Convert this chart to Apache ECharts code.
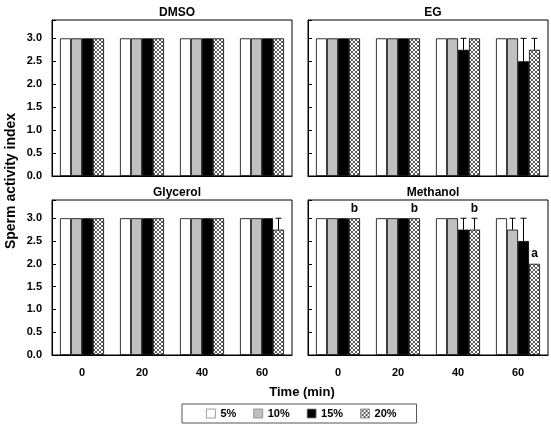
<!DOCTYPE html>
<html>
<head>
<meta charset="utf-8">
<script src="https://cdn.jsdelivr.net/npm/echarts@6/dist/echarts.min.js"></script>
<style>
html, body { margin: 0; padding: 0; background: #fff; }
#main { width: 551px; height: 435px; }
</style>
</head>
<body>
<div id="main"></div>
<script>
var times = ['0', '20', '40', '60'];
var concs = ['5%', '10%', '15%', '20%'];
var panels = ['DMSO', 'EG', 'Glycerol', 'Methanol'];

// values per concentration over time (0, 20, 40, 60 min)
var dmsoVals = [[3, 3, 3, 3], [3, 3, 3, 3], [3, 3, 3, 3], [3, 3, 3, 3]];
var egVals = [[3, 3, 3, 3], [3, 3, 3, 3], [3, 3, 2.75, 2.5], [3, 3, 3, 2.75]];
var glycerolVals = [[3, 3, 3, 3], [3, 3, 3, 3], [3, 3, 3, 3], [3, 3, 3, 2.75]];
var methanolVals = [[3, 3, 3, 3], [3, 3, 3, 2.75], [3, 3, 2.75, 2.5], [3, 3, 2.75, 2.0]];

// upper error bars
var dmsoErr = [[0, 0, 0, 0], [0, 0, 0, 0], [0, 0, 0, 0], [0, 0, 0, 0]];
var egErr = [[0, 0, 0, 0], [0, 0, 0, 0], [0, 0, 0.25, 0.5], [0, 0, 0, 0.25]];
var glycerolErr = [[0, 0, 0, 0], [0, 0, 0, 0], [0, 0, 0, 0], [0, 0, 0, 0.25]];
var methanolErr = [[0, 0, 0, 0], [0, 0, 0, 0.25], [0, 0, 0.25, 0.5], [0, 0, 0.25, 0]];

// letters above the 20% bars of methanol
var methanolLetters = ['b', 'b', 'b', 'a'];

var allVals = [dmsoVals, egVals, glycerolVals, methanolVals];
var allErr = [dmsoErr, egErr, glycerolErr, methanolErr];

var FONT = 'Liberation Sans';

function makeHatch() {
    var c = document.createElement('canvas');
    c.width = 4; c.height = 4;
    var ctx = c.getContext('2d');
    ctx.fillStyle = '#fff';
    ctx.fillRect(0, 0, 4, 4);
    ctx.strokeStyle = '#333';
    ctx.lineWidth = 0.8;
    ctx.beginPath();
    ctx.moveTo(0, 0); ctx.lineTo(4, 4);
    ctx.moveTo(4, 0); ctx.lineTo(0, 4);
    ctx.stroke();
    return c;
}
var hatch = makeHatch();
var barColors = ['#ffffff', '#c0c0c0', '#000000', { image: hatch, repeat: 'repeat' }];

var barW = 11;
var grids = [
    { left: 52, top: 20, width: 240, height: 156 },
    { left: 308, top: 20, width: 240, height: 156 },
    { left: 52, top: 200, width: 240, height: 155 },
    { left: 308, top: 200, width: 240, height: 155 }
];
grids.forEach(function (g) { g.show = true; g.borderColor = '#000'; g.borderWidth = 1; });

var xAxes = [], yAxes = [], series = [], titles = [];
for (var p = 0; p < 4; p++) {
    var g = grids[p];
    titles.push({
        text: panels[p],
        left: g.left + g.width / 2, top: g.top - 18, textAlign: 'center',
        textStyle: { fontFamily: FONT, fontSize: 12, fontWeight: 'bold', color: '#000' }
    });
    xAxes.push({
        type: 'category', gridIndex: p, data: times,
        axisLine: { lineStyle: { color: '#000', width: 1 } },
        axisTick: { inside: true, length: 4, lineStyle: { color: '#000' } },
        axisLabel: {
            show: p >= 2, margin: 12,
            fontFamily: FONT, fontSize: 11, fontWeight: 'bold', color: '#000'
        }
    });
    yAxes.push({
        type: 'value', gridIndex: p, min: 0, max: 3.4, interval: 0.5,
        splitLine: { show: false },
        axisLine: { show: true, lineStyle: { color: '#000', width: 1 } },
        axisTick: { show: true, inside: true, length: 4, lineStyle: { color: '#000' } },
        axisLabel: {
            show: p % 2 === 0, margin: 10,
            fontFamily: FONT, fontSize: 11, fontWeight: 'bold', color: '#000',
            formatter: function (v) { return v > 3.01 ? '' : v.toFixed(1); }
        }
    });
    for (var s = 0; s < 4; s++) {
        series.push({
            name: concs[s], type: 'bar', xAxisIndex: p, yAxisIndex: p,
            barWidth: barW, barGap: '0%', barCategoryGap: '0%',
            data: allVals[p][s],
            itemStyle: { color: barColors[s], borderColor: '#000', borderWidth: 0.8 },
            emphasis: { disabled: true },
            z: 2
        });
    }
    // error bars
    var errData = [];
    for (var s2 = 0; s2 < 4; s2++) {
        for (var i = 0; i < 4; i++) {
            if (allErr[p][s2][i] > 0) errData.push([i, allVals[p][s2][i], allErr[p][s2][i], s2]);
        }
    }
    series.push({
        type: 'custom', xAxisIndex: p, yAxisIndex: p, z: 3, silent: true,
        data: errData,
        renderItem: function (params, api) {
            var x = api.value(0), v = api.value(1), e = api.value(2), si = api.value(3);
            var dx = (si - 1.5) * barW;
            var lo = api.coord([x, v]);
            var hi = api.coord([x, v + e]);
            var cx = lo[0] + dx;
            var st = { stroke: '#000', lineWidth: 1 };
            return {
                type: 'group',
                children: [
                    { type: 'line', shape: { x1: cx, y1: lo[1], x2: cx, y2: hi[1] }, style: st },
                    { type: 'line', shape: { x1: cx - 3, y1: hi[1], x2: cx + 3, y2: hi[1] }, style: st }
                ]
            };
        }
    });
}

// significance letters on the methanol panel (20% bars)
var letterData = methanolLetters.map(function (t, i) {
    return [i, methanolVals[3][i] + methanolErr[3][i]];
});
series.push({
    type: 'custom', xAxisIndex: 3, yAxisIndex: 3, z: 4, silent: true,
    data: letterData,
    renderItem: function (params, api) {
        var pt = api.coord([api.value(0), api.value(1)]);
        return {
            type: 'text',
            x: pt[0] + 1.5 * barW, y: pt[1] - 4,
            style: {
                text: methanolLetters[params.dataIndex], fill: '#000',
                font: 'bold 12px "Liberation Sans"', align: 'center', verticalAlign: 'bottom'
            }
        };
    }
});

var myChart = echarts.init(document.getElementById('main'));
var option = {
    backgroundColor: '#fff',
    animation: false,
    title: titles,
    grid: grids,
    xAxis: xAxes,
    yAxis: yAxes,
    legend: {
        data: concs,
        left: 182, top: 404,
        orient: 'horizontal',
        itemWidth: 9, itemHeight: 9, itemGap: 17,
        padding: [4, 20, 4, 24],
        borderColor: '#555', borderWidth: 1,
        icon: 'rect',
        selectedMode: false,
        itemStyle: { borderColor: '#888', borderWidth: 0.8 },
        textStyle: { fontFamily: FONT, fontSize: 11, fontWeight: 'bold', color: '#000' }
    },
    graphic: [
        {
            type: 'text', x: 11, y: 181, rotation: Math.PI / 2,
            style: {
                text: 'Sperm activity index', fill: '#000',
                font: 'bold 14px "Liberation Sans"', align: 'center', verticalAlign: 'middle'
            }
        },
        {
            type: 'text', x: 302, y: 392,
            style: {
                text: 'Time (min)', fill: '#000',
                font: 'bold 13px "Liberation Sans"', align: 'center', verticalAlign: 'middle'
            }
        }
    ],
    series: series
};
myChart.setOption(option);
</script>
</body>
</html>
